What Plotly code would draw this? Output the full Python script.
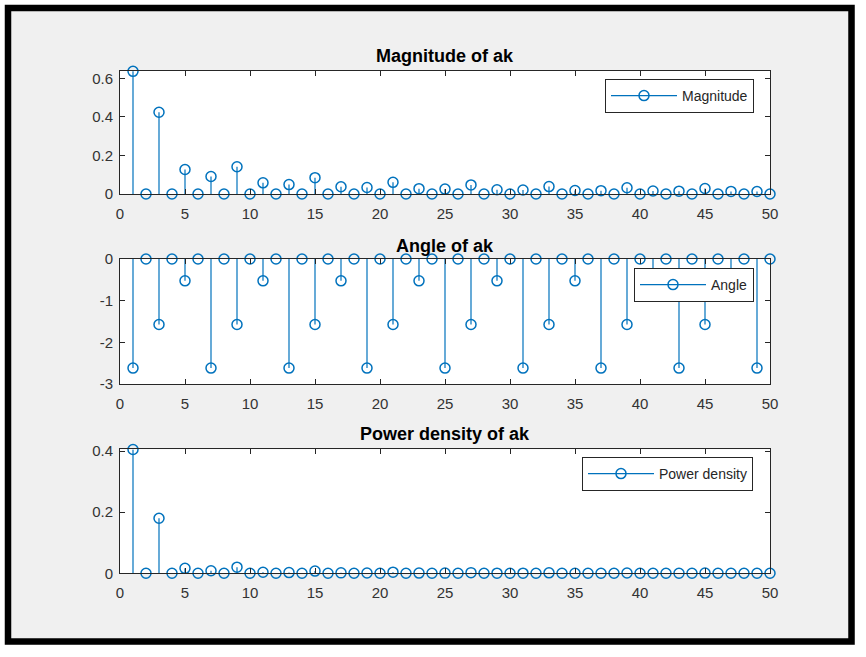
import plotly.graph_objects as go

# ---------------- data ----------------
k = list(range(1, 51))

magnitude = [0.6366, 0, 0.4244, 0, 0.1273, 0, 0.0909, 0, 0.1415, 0,
             0.0579, 0, 0.0490, 0, 0.0849, 0, 0.0374, 0, 0.0335, 0,
             0.0606, 0, 0.0277, 0, 0.0255, 0, 0.0472, 0, 0.0220, 0,
             0.0205, 0, 0.0386, 0, 0.0182, 0, 0.0172, 0, 0.0326, 0,
             0.0155, 0, 0.0148, 0, 0.0283, 0, 0.0135, 0, 0.0130, 0]

angle = [-2.618, 0, -1.571, 0, -0.524, 0, -2.618, 0, -1.571, 0,
         -0.524, 0, -2.618, 0, -1.571, 0, -0.524, 0, -2.618, 0,
         -1.571, 0, -0.524, 0, -2.618, 0, -1.571, 0, -0.524, 0,
         -2.618, 0, -1.571, 0, -0.524, 0, -2.618, 0, -1.571, 0,
         -0.524, 0, -2.618, 0, -1.571, 0, -0.524, 0, -2.618, 0]

power = [0.4053, 0, 0.1801, 0, 0.0162, 0, 0.0083, 0, 0.0200, 0,
         0.0034, 0, 0.0024, 0, 0.0072, 0, 0.0014, 0, 0.0011, 0,
         0.0037, 0, 0.0008, 0, 0.0006, 0, 0.0022, 0, 0.0005, 0,
         0.0004, 0, 0.0015, 0, 0.0003, 0, 0.0003, 0, 0.0011, 0,
         0.0002, 0, 0.0002, 0, 0.0008, 0, 0.0002, 0, 0.0002, 0]

titles = ["Magnitude of ak", "Angle of ak", "Power density of ak"]
legend_names = ["Magnitude", "Angle", "Power density"]
x_ticks = [0, 5, 10, 15, 20, 25, 30, 35, 40, 45, 50]
y_ticks = [[0, 0.2, 0.4, 0.6], [-3, -2, -1, 0], [0, 0.2, 0.4]]
y_ticklabels = [["0", "0.2", "0.4", "0.6"], ["-3", "-2", "-1", "0"], ["0", "0.2", "0.4"]]
y_ranges = [[0, 0.64], [-3, 0], [0, 0.4058]]
series = [magnitude, angle, power]

# ---------------- layout helpers ----------------
W, H = 866, 657
def fx(p):
    return p / W
def fy(p):
    return 1 - p / H

BLUE = "#0072BD"
AX = "#262626"
FONT = "Liberation Sans, Arial, sans-serif"

# pixel boxes of the three axes (left, right, top, bottom)
boxes = [(120, 770, 70.7, 194), (120, 770, 259, 384), (120, 770, 449.3, 573.3)]
title_y = [56, 246, 434]
legend_pos = [(754, 79), (754, 268), (753, 457)]

fig = go.Figure()

marker_style = dict(symbol="circle-open", size=10, color=BLUE, line=dict(width=1.5, color=BLUE))

for i, vals in enumerate(series):
    n = "" if i == 0 else str(i + 1)
    xs, ys = [], []
    for kk, v in zip(k, vals):
        xs += [kk, kk, None]
        ys += [0, v, None]
    lg = "legend" + n
    fig.add_trace(go.Scatter(x=xs, y=ys, mode="lines", line=dict(color=BLUE, width=1.2),
                             xaxis="x" + n, yaxis="y" + n, showlegend=False, hoverinfo="skip"))
    fig.add_trace(go.Scatter(x=k, y=vals, mode="markers", cliponaxis=False,
                             marker=marker_style,
                             xaxis="x" + n, yaxis="y" + n, showlegend=False))
    fig.add_trace(go.Scatter(x=[None], y=[None], mode="lines+markers", name=legend_names[i],
                             line=dict(color=BLUE, width=1.2),
                             marker=marker_style,
                             xaxis="x" + n, yaxis="y" + n, showlegend=True, legend=lg))

layout = dict(
    width=W, height=H,
    margin=dict(l=0, r=0, t=0, b=0, pad=0, autoexpand=False),
    paper_bgcolor="#f0f0f0",
    plot_bgcolor="white",
    font=dict(family=FONT, size=15, color=AX),
    annotations=[],
    shapes=[
        dict(type="rect", xref="paper", yref="paper",
             x0=fx(-1), x1=fx(861), y0=fy(-1), y1=fy(651),
             line=dict(color="white", width=12)),
        dict(type="rect", xref="paper", yref="paper",
             x0=fx(8), x1=fx(851.5), y0=fy(8), y1=fy(641.5),
             line=dict(color="black", width=6.5)),
    ],
)

for i in range(3):
    n = "" if i == 0 else str(i + 1)
    l, r, t, b = boxes[i]
    layout["xaxis" + n] = dict(
        domain=[fx(l), fx(r)], anchor="y" + n, range=[0, 50],
        tickvals=x_ticks, ticks="inside", ticklen=5, tickcolor=AX, tickwidth=1,
        showline=True, linecolor=AX, linewidth=1, mirror="ticks",
        showgrid=False, zeroline=False, ticklabelstandoff=6, automargin=False,
        tickfont=dict(family=FONT, size=15, color="#333333"),
    )
    layout["yaxis" + n] = dict(
        domain=[fy(b), fy(t)], anchor="x" + n, range=y_ranges[i],
        tickvals=y_ticks[i], ticktext=y_ticklabels[i],
        ticks="inside", ticklen=5, tickcolor=AX, tickwidth=1,
        showline=True, linecolor=AX, linewidth=1, mirror="ticks",
        showgrid=False, zeroline=False, ticklabelstandoff=3, automargin=False,
        tickfont=dict(family=FONT, size=15, color="#333333"),
    )
    layout["annotations"].append(dict(
        text=titles[i], xref="paper", yref="paper",
        x=fx((l + r) / 2), y=fy(title_y[i]), xanchor="center", yanchor="middle",
        showarrow=False, font=dict(family=FONT, size=18, color="black", weight="bold"),
    ))
    lx, ly = legend_pos[i]
    layout["legend" + n] = dict(
        x=fx(lx), y=fy(ly), xanchor="right", yanchor="top",
        bgcolor="white", bordercolor=AX, borderwidth=1,
        font=dict(family=FONT, size=14, color=AX), itemwidth=66,
    )

fig.update_layout(**layout)
fig.write_html("out.html", config={"displayModeBar": False},
               post_script="document.body.style.margin='0';document.body.style.overflow='hidden';")
